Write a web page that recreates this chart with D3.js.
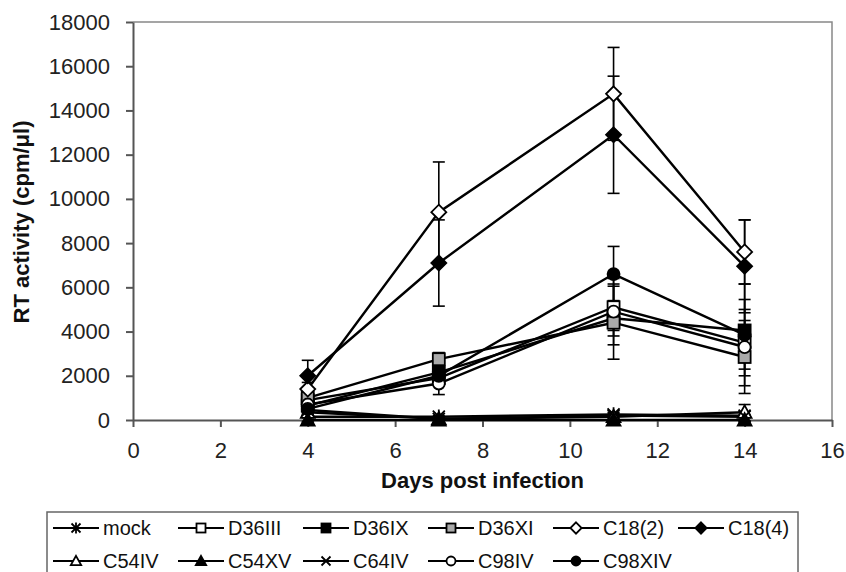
<!DOCTYPE html>
<html>
<head>
<meta charset="utf-8">
<script src="https://cdn.jsdelivr.net/npm/d3@7"></script>
<style>
body { margin: 0; background: #fff; }
text { font-family: "Liberation Sans", Arial, sans-serif; }
</style>
</head>
<body>
<div id="my_dataviz"></div>
<script>
var margin = { top: 22, right: 14, bottom: 152, left: 133 },
	width = 846 - margin.left - margin.right,
	height = 572 - margin.top - margin.bottom;

const days = [4, 7, 11, 14];
const xTicks = [0, 2, 4, 6, 8, 10, 12, 14, 16];
const yTicks = [0, 2000, 4000, 6000, 8000, 10000, 12000, 14000, 16000, 18000];

const names = ["mock", "D36III", "D36IX", "D36XI", "C18(2)", "C18(4)", "C54IV", "C54XV", "C64IV", "C98IV", "C98XIV"];
const markers = ["asterisk", "squareOpen", "squareBlack", "squareGray", "diamondOpen", "diamondBlack", "triangleOpen", "triangleBlack", "cross", "circleOpen", "circleBlack"];

// RT activity per day (cpm/ul)
const mock = [150, 150, 250, 200];
const D36III = [900, 1900, 5100, 3500];
const D36IX = [650, 2150, 4600, 4050];
const D36XI = [1000, 2750, 4400, 2850];
const C18_2 = [1400, 9400, 14750, 7600];
const C18_4 = [2000, 7100, 12900, 6950];
const C54IV = [350, 50, 150, 350];
const C54XV = [0, 0, 0, 0];
const C64IV = [450, 50, 200, 150];
const C98IV = [700, 1650, 4900, 3300];
const C98XIV = [500, 2000, 6600, 3850];

// error bars (+/-)
const mockErr = [50, 50, 100, 50];
const D36IIIErr = [200, 300, 1050, 1500];
const D36IXErr = [200, 300, 800, 1400];
const D36XIErr = [200, 300, 1650, 1650];
const C18_2Err = [300, 2270, 2100, 1450];
const C18_4Err = [700, 1950, 2650, 2100];
const C54IVErr = [100, 50, 100, 350];
const C54XVErr = [0, 0, 0, 0];
const C64IVErr = [100, 50, 100, 50];
const C98IVErr = [200, 500, 1500, 1000];
const C98XIVErr = [200, 300, 1250, 2300];

const values = [mock, D36III, D36IX, D36XI, C18_2, C18_4, C54IV, C54XV, C64IV, C98IV, C98XIV];
const errors = [mockErr, D36IIIErr, D36IXErr, D36XIErr, C18_2Err, C18_4Err, C54IVErr, C54XVErr, C64IVErr, C98IVErr, C98XIVErr];

var svg = d3
	.select("#my_dataviz")
	.append("svg")
	.attr("width", 846)
	.attr("height", 572);

var g = svg.append("g")
	.attr("transform", "translate(" + margin.left + "," + margin.top + ")");

var x = d3.scaleLinear().domain([0, 16]).range([0, width]);
var y = d3.scaleLinear().domain([0, 18000]).range([height, 0]);

// frame top / right
g.append("path")
	.attr("d", "M0,0H" + width + "V" + height)
	.attr("fill", "none")
	.attr("stroke", "#888")
	.attr("stroke-width", 1.5);

// axes
var yAxis = g.append("g")
	.call(d3.axisLeft(y).tickValues(yTicks).tickFormat(d3.format("d")).tickSize(7).tickSizeOuter(0).tickPadding(16));
var xAxis = g.append("g")
	.attr("transform", "translate(0," + height + ")")
	.call(d3.axisBottom(x).tickValues(xTicks).tickFormat(d3.format("d")).tickSize(7).tickSizeOuter(0).tickPadding(15));

[xAxis, yAxis].forEach(function (a) {
	a.selectAll("path, line").attr("stroke", "#555").attr("stroke-width", 2);
	a.selectAll("text")
		.attr("fill", "#222")
		.style("font-size", "22px")
		.style("font-family", "'Liberation Sans', Arial, sans-serif");
});

// axis titles
svg.append("text")
	.attr("x", margin.left + width / 2)
	.attr("y", 488)
	.attr("text-anchor", "middle")
	.style("font-size", "22px")
	.style("font-weight", "bold")
	.attr("fill", "#111")
	.text("Days post infection");

svg.append("text")
	.attr("transform", "translate(29," + (margin.top + 200) + ")rotate(-90)")
	.attr("text-anchor", "middle")
	.style("font-size", "22px")
	.style("font-weight", "bold")
	.attr("fill", "#111")
	.text("RT activity (cpm/\u03bcl)");

function drawMarker(sel, type, r) {
	var fill = "#fff";
	if (type.indexOf("Black") > 0) fill = "#000";
	if (type.indexOf("Gray") > 0) fill = "#aaa";
	var p;
	if (type.indexOf("square") === 0) {
		p = sel.append("rect").attr("x", -r).attr("y", -r).attr("width", 2 * r).attr("height", 2 * r);
	} else if (type.indexOf("diamond") === 0) {
		var d = r * 1.25;
		p = sel.append("path").attr("d", "M0," + -d + "L" + d + ",0L0," + d + "L" + -d + ",0Z");
	} else if (type.indexOf("circle") === 0) {
		p = sel.append("circle").attr("r", r);
	} else if (type.indexOf("triangle") === 0) {
		var t = r * 1.15;
		p = sel.append("path").attr("d", "M0," + -t + "L" + t + "," + t * 0.8 + "L" + -t + "," + t * 0.8 + "Z");
	} else if (type === "cross") {
		p = sel.append("path").attr("d", "M" + -r + "," + -r + "L" + r + "," + r + "M" + -r + "," + r + "L" + r + "," + -r);
		fill = "none";
	} else {
		p = sel.append("path").attr("d", "M" + -r + "," + -r + "L" + r + "," + r + "M" + -r + "," + r + "L" + r + "," + -r + "M0," + (-r * 1.2) + "V" + r * 1.2);
		fill = "none";
	}
	p.attr("fill", fill).attr("stroke", "#000").attr("stroke-width", 1.8);
}

var line = d3.line()
	.x(function (d, i) { return x(days[i]); })
	.y(function (d) { return y(d); });

// lines
g.selectAll(".series")
	.data(values)
	.enter()
	.append("path")
	.attr("d", line)
	.attr("fill", "none")
	.attr("stroke", "#000")
	.attr("stroke-width", 2.4);

// error bars
values.forEach(function (vals, s) {
	vals.forEach(function (v, i) {
		var e = errors[s][i];
		if (!e) return;
		var cx = x(days[i]);
		var y1 = y(v + e), y0 = y(Math.max(0, v - e));
		var eg = g.append("g").attr("stroke", "#000").attr("stroke-width", 1.6);
		eg.append("line").attr("x1", cx).attr("x2", cx).attr("y1", y1).attr("y2", y0);
		eg.append("line").attr("x1", cx - 6).attr("x2", cx + 6).attr("y1", y1).attr("y2", y1);
		if (v - e > 0) eg.append("line").attr("x1", cx - 6).attr("x2", cx + 6).attr("y1", y0).attr("y2", y0);
	});
});

// markers
values.forEach(function (vals, s) {
	vals.forEach(function (v, i) {
		var mg = g.append("g").attr("transform", "translate(" + x(days[i]) + "," + y(v) + ")");
		drawMarker(mg, markers[s], 6);
	});
});

// legend
svg.append("rect")
	.attr("x", 47)
	.attr("y", 512)
	.attr("width", 751)
	.attr("height", 80)
	.attr("fill", "#fff")
	.attr("stroke", "#666")
	.attr("stroke-width", 1.5);

names.forEach(function (n, i) {
	var col = i < 6 ? i : i - 6;
	var row = i < 6 ? 0 : 1;
	var lx = 53 + col * 125;
	var ly = 528 + row * 33;
	var lg = svg.append("g");
	lg.append("line")
		.attr("x1", lx).attr("x2", lx + 46)
		.attr("y1", ly).attr("y2", ly)
		.attr("stroke", "#000").attr("stroke-width", 2.2);
	drawMarker(lg.append("g").attr("transform", "translate(" + (lx + 23) + "," + ly + ")"), markers[i], 4.5);
	lg.append("text")
		.attr("x", lx + 50)
		.attr("y", ly + 7)
		.style("font-size", "20px")
		.attr("fill", "#111")
		.text(n);
});
</script>
</body>
</html>
